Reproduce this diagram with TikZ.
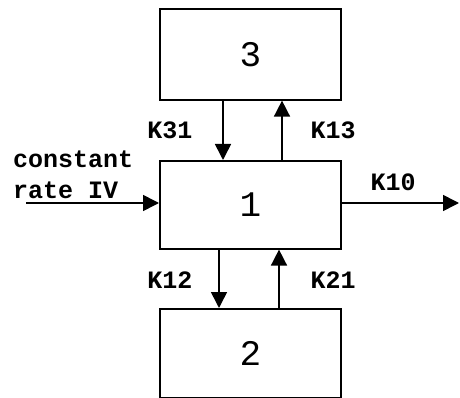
\documentclass[tikz,border=0pt]{standalone}
\usepackage{fontspec}
\setmainfont{Liberation Mono}
\usetikzlibrary{arrows.meta}
\begin{document}
\begin{tikzpicture}[x=1pt,y=-1pt,
  cbox/.style={draw,line width=1.6pt,inner sep=0pt,anchor=north west,font=\fontsize{36}{36}\selectfont},
  lbl/.style={font=\fontsize{25}{25}\selectfont\bfseries,inner sep=0pt},
  arr/.style={line width=1.6pt,-{Triangle[length=16pt,width=16pt]}}]
\useasboundingbox (0,0) rectangle (460,398);
\node[cbox,minimum width=181pt,minimum height=91pt] (b3) at (159,8) {3};
\node[cbox,minimum width=181pt,minimum height=88pt] (b1) at (159,160) {1};
\node[cbox,minimum width=181pt,minimum height=89pt] (b2) at (159,308) {2};
\coordinate (in) at (26,203);
\coordinate (out) at (459,203);
\draw[arr] (b3.south west -| 223,0) -- (b1.north west -| 223,0);
\draw[arr] (b1.north west -| 282,0) -- (b3.south west -| 282,0);
\draw[arr] (b1.south west -| 219,0) -- (b2.north west -| 219,0);
\draw[arr] (b2.north west -| 279,0) -- (b1.south west -| 279,0);
\draw[arr] (in) -- (in -| b1.west);
\draw[arr] (b1.east |- out) -- (out);
\node[lbl] (k31) at (170,130) {K31};
\node[lbl] (k13) at (333,130) {K13};
\node[lbl] (k12) at (170,280) {K12};
\node[lbl] (k21) at (333,280) {K21};
\node[lbl] (k10) at (393,182) {K10};
\node[lbl,anchor=west] (c1) at (13,159) {constant};
\node[lbl,anchor=west] (c2) at (13,190) {rate IV};
\end{tikzpicture}
\end{document}
